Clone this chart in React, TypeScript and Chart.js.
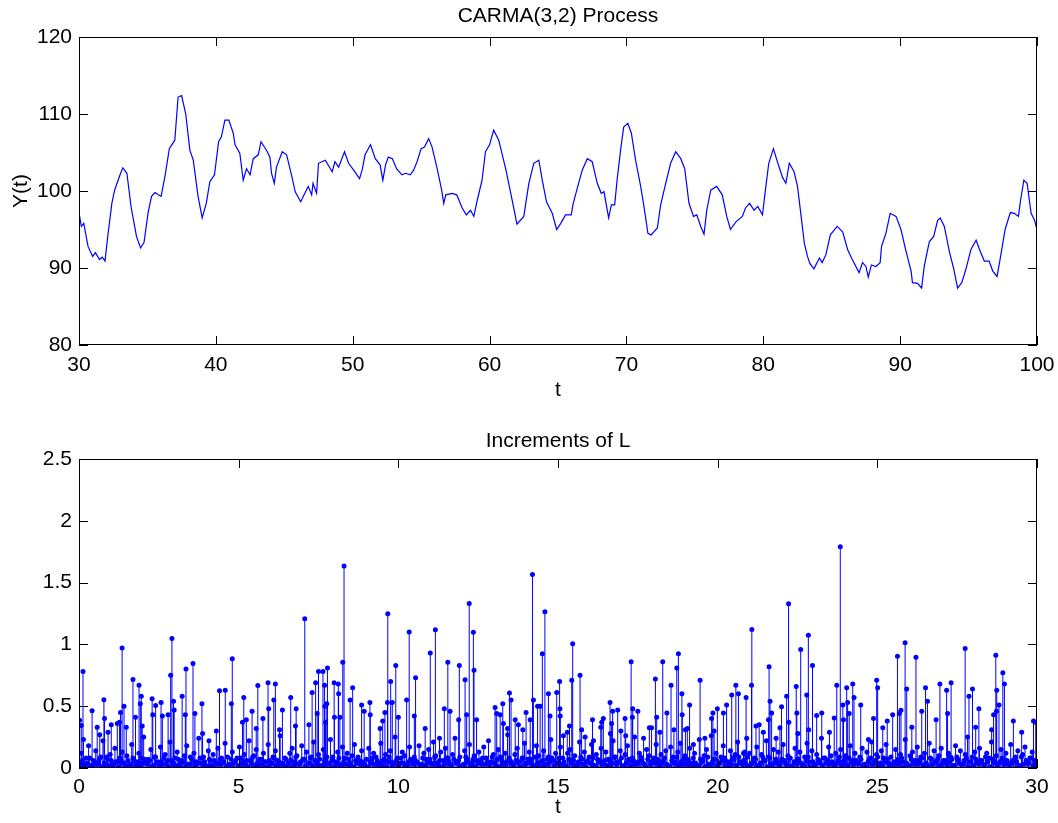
import React, { useEffect, useRef } from "react";
import { Chart, registerables } from "chart.js";

Chart.register(...registerables);

// ---------- Top panel: CARMA(3,2) process ----------
const topT = [
  30.0, 30.17, 30.35, 30.66, 31.0, 31.2, 31.5, 31.7, 31.9, 32.1, 32.4, 32.6, 33.0, 33.2, 33.5, 33.8,
  34.2, 34.5, 34.75, 35.05, 35.3, 35.55, 35.8, 36.0, 36.3, 36.6, 37.0, 37.24, 37.5, 37.8, 38.1, 38.35,
  38.7, 39.0, 39.3, 39.56, 39.9, 40.2, 40.4, 40.66, 40.95, 41.27, 41.4, 41.75, 42.0, 42.24, 42.5, 42.73,
  43.1, 43.3, 43.7, 43.95, 44.07, 44.27, 44.43, 44.85, 45.17, 45.5, 45.8, 46.2, 46.5, 46.75, 47.0, 47.1,
  47.36, 47.5, 48.0, 48.5, 48.7, 48.97, 49.4, 49.7, 50.07, 50.5, 50.7, 50.9, 51.3, 51.65, 52.0, 52.2,
  52.4, 52.6, 52.9, 53.2, 53.6, 53.85, 54.2, 54.45, 54.7, 55.0, 55.24, 55.55, 55.8, 56.17, 56.5, 56.65,
  56.8, 57.26, 57.6, 58.0, 58.3, 58.6, 58.85, 59.1, 59.45, 59.7, 60.0, 60.3, 60.67, 61.2, 61.65, 62.0,
  62.5, 62.87, 63.23, 63.6, 63.85, 64.16, 64.58, 64.9, 65.2, 65.55, 65.97, 66.1, 66.4, 66.77, 67.14, 67.5,
  67.87, 68.16, 68.36, 68.7, 68.9, 69.14, 69.33, 69.6, 69.8, 70.1, 70.36, 70.67, 71.04, 71.28, 71.57, 71.8,
  72.26, 72.5, 72.87, 73.23, 73.6, 73.97, 74.26, 74.57, 74.9, 75.14, 75.43, 75.67, 75.87, 76.16, 76.6, 77.0,
  77.33, 77.6, 78.0, 78.47, 78.7, 79.0, 79.33, 79.6, 79.94, 80.1, 80.4, 80.74, 81.03, 81.4, 81.65, 81.9,
  82.25, 82.5, 82.74, 83.0, 83.23, 83.4, 83.7, 84.1, 84.3, 84.57, 84.9, 85.4, 85.8, 86.16, 86.5, 87.0,
  87.25, 87.5, 87.67, 87.9, 88.23, 88.54, 88.64, 88.96, 89.27, 89.7, 90.06, 90.4, 90.8, 90.9, 91.27, 91.57,
  91.76, 92.13, 92.45, 92.74, 92.93, 93.23, 93.6, 93.9, 94.2, 94.5, 94.8, 95.17, 95.55, 95.8, 96.15, 96.5,
  96.77, 97.08, 97.3, 97.67, 98.05, 98.35, 98.64, 98.8, 99.04, 99.28, 99.57, 99.82, 100.0,
];
const topY = [
  97.2, 95.4, 95.8, 92.8, 91.5, 92.0, 91.1, 91.4, 90.9, 94.1, 98.4, 100.1, 102.1, 103.0, 102.3, 98.0,
  94.1, 92.6, 93.3, 97.2, 99.3, 99.8, 99.5, 99.3, 102.1, 105.5, 106.6, 112.2, 112.4, 110.0, 105.3, 104.0,
  99.3, 96.5, 98.4, 101.2, 102.1, 106.4, 107.0, 109.2, 109.2, 107.5, 106.0, 104.9, 101.4, 102.9, 102.1, 104.2,
  104.7, 106.4, 105.3, 104.4, 102.3, 101.0, 103.1, 105.1, 104.7, 102.3, 99.9, 98.6, 99.7, 100.6, 99.5, 101.0,
  99.7, 103.6, 104.0, 102.5, 103.8, 103.1, 105.1, 103.6, 102.7, 101.6, 102.8, 104.7, 106.0, 104.2, 103.4, 101.4,
  103.4, 104.4, 104.2, 102.9, 102.1, 102.3, 102.1, 102.7, 103.8, 105.5, 105.7, 106.8, 105.7, 102.9, 100.1, 98.4,
  99.5, 99.7, 99.5, 97.8, 96.9, 97.5, 96.7, 98.8, 101.4, 105.1, 106.0, 107.9, 106.6, 102.7, 98.8, 95.7,
  96.7, 101.0, 103.6, 104.0, 101.4, 98.6, 97.1, 95.0, 95.8, 96.9, 96.9, 98.3, 100.3, 102.7, 104.2, 103.8,
  101.0, 99.7, 99.9, 96.5, 98.2, 98.2, 101.6, 105.7, 108.3, 108.8, 107.5, 104.0, 100.6, 98.0, 94.5, 94.3,
  95.2, 98.2, 101.0, 103.6, 105.1, 104.2, 102.9, 98.4, 96.7, 96.9, 95.4, 94.4, 97.5, 100.1, 100.6, 99.5,
  96.7, 95.0, 96.0, 96.7, 97.8, 98.4, 97.5, 98.0, 96.9, 99.3, 103.6, 105.5, 103.8, 101.8, 101.0, 103.6,
  102.5, 100.6, 97.1, 93.2, 91.5, 90.6, 89.9, 91.3, 90.7, 91.7, 94.3, 95.4, 94.7, 92.4, 91.1, 89.4,
  90.7, 90.2, 88.8, 90.4, 90.2, 90.7, 92.8, 94.5, 97.1, 96.7, 95.0, 92.4, 89.6, 88.1, 88.0, 87.4,
  90.2, 93.4, 94.1, 96.2, 96.5, 95.4, 92.1, 90.0, 87.4, 88.1, 89.8, 92.4, 93.6, 92.4, 90.9, 90.9,
  89.6, 88.9, 91.1, 95.0, 97.2, 97.1, 96.7, 98.8, 101.4, 101.0, 97.1, 96.2, 95.0,
];
const topXTicks = [30, 40, 50, 60, 70, 80, 90, 100];
const topYTicks = [80, 90, 100, 110, 120];

// ---------- Bottom panel: increments of L ----------
const incT = [
  0.02, 0.07, 0.125, 0.14, 0.41, 0.57, 0.65, 0.78, 0.8, 0.91, 1.01, 1.2, 1.27, 1.3, 1.35, 1.41, 1.48,
  1.69, 1.77, 1.88, 1.92, 1.95, 1.98, 2.29, 2.31, 2.4, 2.57, 2.61, 2.79, 2.87, 2.91, 2.96, 2.98, 3.23,
  3.33, 3.35, 3.57, 3.63, 3.85, 3.87, 4.07, 4.3, 4.4, 4.58, 4.77, 4.8, 5.12, 5.16, 5.24, 5.42, 5.55,
  5.6, 5.76, 5.92, 5.94, 6.1, 6.15, 6.28, 6.37, 6.63, 6.78, 6.8, 7.07, 7.2, 7.3, 7.41, 7.46, 7.5, 7.64,
  7.69, 7.7, 7.72, 7.76, 7.78, 7.99, 8.0, 8.12, 8.13, 8.17, 8.26, 8.3, 8.49, 8.57, 8.85, 8.93, 9.11,
  9.12, 9.43, 9.51, 9.58, 9.66, 9.67, 9.76, 9.81, 9.92, 10.0, 10.26, 10.34, 10.5, 10.54, 10.84, 11.0,
  11.16, 11.29, 11.44, 11.55, 11.62, 11.89, 11.91, 12.09, 12.14, 12.22, 12.35, 12.37, 12.45, 13.03,
  13.08, 13.19, 13.27, 13.29, 13.42, 13.48, 13.53, 13.66, 13.76, 13.9, 14.0, 14.13, 14.2, 14.23, 14.36,
  14.44, 14.51, 14.59, 14.7, 14.75, 14.96, 15.05, 15.06, 15.07, 15.17, 15.29, 15.36, 15.43, 15.46,
  15.69, 15.74, 15.85, 16.08, 16.11, 16.34, 16.37, 16.42, 16.63, 16.64, 16.68, 16.71, 16.87, 16.97,
  17.1, 17.12, 17.29, 17.33, 17.34, 17.5, 17.68, 17.86, 17.93, 18.05, 18.09, 18.19, 18.28, 18.41,
  18.54, 18.63, 18.72, 18.77, 18.88, 18.89, 18.99, 19.05, 19.12, 19.24, 19.45, 19.6, 19.81, 19.85,
  19.89, 19.99, 20.18, 20.28, 20.44, 20.57, 20.65, 20.81, 20.89, 20.91, 21.06, 21.07, 21.2, 21.3,
  21.43, 21.59, 21.61, 21.64, 21.69, 21.83, 21.95, 22.0, 22.16, 22.22, 22.23, 22.46, 22.48, 22.51,
  22.6, 22.79, 22.84, 22.85, 22.97, 23.1, 23.26, 23.5, 23.65, 23.73, 23.84, 23.92, 23.94, 24.04, 24.07,
  24.12, 24.23, 24.27, 24.48, 24.72, 24.88, 24.98, 25.01, 25.17, 25.31, 25.48, 25.63, 25.69, 25.74,
  25.87, 25.92, 26.08, 26.21, 26.39, 26.51, 26.57, 26.84, 26.96, 27.17, 27.2, 27.31, 27.75, 27.87,
  27.98, 28.08, 28.18, 28.58, 28.64, 28.71, 28.73, 28.74, 28.81, 28.93, 28.98, 29.26, 29.52, 29.89, 29.96,
];
const incV = [
  0.386, 0.343, 0.78, 0.23, 0.464, 0.33, 0.27, 0.553, 0.4, 0.29, 0.35, 0.36, 0.37, 0.45, 0.97, 0.5, 0.33,
  0.716, 0.41, 0.67, 0.52, 0.58, 0.34, 0.56, 0.43, 0.505, 0.53, 0.42, 0.43, 0.75, 1.048, 0.54, 0.47, 0.58,
  0.43, 0.8, 0.845, 0.44, 0.52, 0.28, 0.22, 0.3, 0.626, 0.63, 0.52, 0.883, 0.37, 0.57, 0.39, 0.46, 0.32,
  0.667, 0.4, 0.69, 0.48, 0.55, 0.68, 0.31, 0.47, 0.57, 0.34, 0.48, 1.207, 0.35, 0.61, 0.69, 0.44, 0.78, 0.78,
  0.67, 0.5, 0.37, 0.52, 0.81, 0.69, 0.41, 0.68, 0.6, 0.41, 0.856, 1.634, 0.55, 0.65, 0.51, 0.46, 0.53,
  0.43, 0.32, 0.38, 0.45, 0.53, 1.248, 0.7, 0.53, 0.83, 0.41, 0.55, 1.1, 0.42, 0.73, 0.32, 0.93,
  1.118, 0.24, 0.48, 0.856, 0.46, 0.39, 0.83, 0.715, 0.43, 1.331, 1.099, 0.79, 0.39, 0.49,
  0.44, 0.43, 0.52, 0.36, 0.32, 0.606, 0.55, 0.39, 0.35, 0.31, 0.45, 0.39, 1.566, 0.55, 0.5,
  0.5, 0.925, 1.264, 0.6, 0.42, 0.61, 0.7, 0.48, 0.42, 0.26, 0.29, 0.34, 0.71, 1.005,
  0.75, 0.31, 0.25, 0.39, 0.22, 0.33, 0.37, 0.4, 0.53, 0.28, 0.36, 0.46, 0.47, 0.3,
  0.4, 0.26, 0.859, 0.41, 0.48, 0.46, 0.24, 0.325, 0.325, 0.72, 0.41, 0.29, 0.86, 0.445,
  0.67, 0.31, 0.81, 0.924, 0.6, 0.43, 0.31, 0.32, 0.51, 0.19, 0.71, 0.24, 0.4, 0.445,
  0.3, 0.48, 0.445, 0.51, 0.59, 0.67, 0.6, 0.12, 0.57, 0.24, 0.67, 1.12, 0.34, 0.35,
  0.29, 0.39, 0.82, 0.54, 0.445, 0.24, 0.325, 0.495, 0.58, 1.329, 0.37, 0.66, 0.445, 0.28,
  0.959, 0.59, 1.075, 0.31, 0.83, 0.425, 0.445, 0.29, 0.405, 0.67, 1.79, 0.51, 0.39, 0.65, 0.53,
  0.44, 0.68, 0.57, 0.51, 0.23, 0.4, 0.71, 0.65, 0.325, 0.38, 0.43, 0.905, 0.44, 0.467,
  1.013, 0.64, 0.33, 0.896, 0.46, 0.65, 0.54, 0.39, 0.68, 0.63, 0.44, 0.69, 0.967, 0.58,
  0.64, 0.33, 0.48, 0.31, 0.43, 0.912, 0.46, 0.63, 0.51, 0.77, 0.68, 0.38, 0.29, 0.38, 0.37,
];
// small increments, one every 0.075 time units starting at t = 0
const smallStep = 0.075;
const smallV = [
  0.05, 0.12, 0.03, 0.08, 0.18, 0.02, 0.06, 0.14, 0.04, 0.09, 0.22, 0.03, 0.07, 0.11, 0.02, 0.16, 0.05, 0.08, 0.13, 0.04,
  0.1, 0.02, 0.19, 0.06, 0.03, 0.12, 0.08, 0.25, 0.04, 0.07, 0.15, 0.02, 0.09, 0.05, 0.17, 0.03, 0.11, 0.06, 0.21, 0.04,
  0.08, 0.13, 0.02, 0.06, 0.1, 0.18, 0.03, 0.07, 0.12, 0.05, 0.24, 0.04, 0.09, 0.02, 0.14, 0.06, 0.11, 0.03, 0.16, 0.07,
  0.04, 0.2, 0.09, 0.02, 0.13, 0.05, 0.08, 0.17, 0.03, 0.11, 0.06, 0.22, 0.04, 0.1, 0.15, 0.02, 0.07, 0.12, 0.05, 0.19,
  0.03, 0.09, 0.14, 0.06, 0.26, 0.04, 0.08, 0.02, 0.12, 0.16, 0.05, 0.1, 0.03, 0.18, 0.07, 0.13, 0.04, 0.09, 0.21, 0.06,
  0.11, 0.02, 0.15, 0.07, 0.04, 0.23, 0.09, 0.05, 0.13, 0.03, 0.17, 0.08, 0.12, 0.02, 0.1, 0.19, 0.04, 0.06, 0.14, 0.03,
  0.07, 0.16, 0.04, 0.12, 0.09, 0.02, 0.2, 0.06, 0.11, 0.05, 0.14, 0.03, 0.25, 0.08, 0.04, 0.13, 0.1, 0.02, 0.17, 0.06,
  0.09, 0.05, 0.18, 0.03, 0.12, 0.07, 0.15, 0.04, 0.21, 0.1, 0.02, 0.13, 0.06, 0.16, 0.08, 0.03, 0.11, 0.24, 0.05, 0.09,
  0.02, 0.14, 0.07, 0.19, 0.04, 0.1, 0.06, 0.13, 0.03, 0.17, 0.08, 0.22, 0.05, 0.11, 0.02, 0.15, 0.09, 0.04, 0.12, 0.27,
  0.06, 0.03, 0.11, 0.16, 0.05, 0.08, 0.2, 0.04, 0.13, 0.07, 0.02, 0.18, 0.1, 0.05, 0.14, 0.03, 0.09, 0.23, 0.06, 0.12,
  0.04, 0.17, 0.08, 0.02, 0.12, 0.15, 0.06, 0.1, 0.03, 0.21, 0.07, 0.13, 0.05, 0.09, 0.19, 0.02, 0.11, 0.06, 0.16, 0.04,
  0.13, 0.07, 0.03, 0.22, 0.09, 0.05, 0.14, 0.02, 0.11, 0.18, 0.06, 0.08, 0.25, 0.04, 0.12, 0.07, 0.03, 0.15, 0.1, 0.05,
  0.08, 0.19, 0.04, 0.11, 0.06, 0.14, 0.02, 0.17, 0.09, 0.05, 0.13, 0.2, 0.03, 0.1, 0.07, 0.16, 0.04, 0.12, 0.02, 0.23,
  0.05, 0.1, 0.15, 0.03, 0.26, 0.07, 0.12, 0.04, 0.09, 0.18, 0.06, 0.02, 0.14, 0.08, 0.11, 0.21, 0.05, 0.03, 0.13, 0.09,
  0.12, 0.04, 0.08, 0.17, 0.02, 0.11, 0.06, 0.22, 0.09, 0.03, 0.15, 0.07, 0.13, 0.05, 0.19, 0.04, 0.1, 0.08, 0.02, 0.16,
  0.07, 0.13, 0.03, 0.09, 0.2, 0.05, 0.14, 0.02, 0.11, 0.06, 0.24, 0.08, 0.04, 0.17, 0.1, 0.03, 0.12, 0.06, 0.15, 0.05,
  0.1, 0.02, 0.18, 0.06, 0.12, 0.04, 0.09, 0.16, 0.03, 0.13, 0.07, 0.21, 0.05, 0.11, 0.02, 0.14, 0.08, 0.19, 0.04, 0.09,
  0.03, 0.15, 0.07, 0.11, 0.05, 0.23, 0.02, 0.1, 0.13, 0.06, 0.17, 0.04, 0.08, 0.12, 0.03, 0.2, 0.07, 0.14, 0.05, 0.1,
  0.16, 0.06, 0.04, 0.12, 0.09, 0.02, 0.18, 0.07, 0.14, 0.03, 0.11, 0.25, 0.05, 0.09, 0.13, 0.04, 0.16, 0.06, 0.02, 0.12,
  0.08, 0.21, 0.05, 0.1, 0.03, 0.15, 0.07, 0.12, 0.04, 0.19, 0.06, 0.09, 0.14, 0.02, 0.11, 0.17, 0.05, 0.08, 0.13, 0.06,
];
// tiny increments, one every 0.075 time units starting at t = 0.0375
const tinyStart = 0.0375;
const tinyV = [
  0.03, 0.06, 0.01, 0.04, 0.08, 0.02, 0.05, 0.03, 0.07, 0.01, 0.04, 0.09, 0.02, 0.06, 0.03, 0.05, 0.01, 0.07, 0.04, 0.02,
  0.06, 0.03, 0.08, 0.01, 0.05, 0.02, 0.04, 0.07, 0.03, 0.06, 0.01, 0.09, 0.04, 0.02, 0.05, 0.08, 0.03, 0.01, 0.06, 0.04,
  0.02, 0.07, 0.04, 0.05, 0.01, 0.03, 0.09, 0.06, 0.02, 0.04, 0.08, 0.03, 0.05, 0.01, 0.07, 0.02, 0.06, 0.04, 0.03, 0.08,
  0.05, 0.01, 0.03, 0.07, 0.04, 0.06, 0.02, 0.08, 0.05, 0.03, 0.01, 0.06, 0.09, 0.02, 0.04, 0.07, 0.03, 0.05, 0.01, 0.06,
  0.04, 0.08, 0.02, 0.05, 0.03, 0.01, 0.07, 0.04, 0.06, 0.02, 0.09, 0.03, 0.05, 0.07, 0.01, 0.04, 0.08, 0.02, 0.06, 0.03,
  0.07, 0.02, 0.05, 0.09, 0.03, 0.06, 0.01, 0.04, 0.08, 0.02, 0.05, 0.03, 0.07, 0.04, 0.01, 0.06, 0.09, 0.03, 0.05, 0.02,
  0.01, 0.05, 0.08, 0.03, 0.06, 0.04, 0.02, 0.07, 0.01, 0.09, 0.05, 0.03, 0.06, 0.02, 0.08, 0.04, 0.01, 0.05, 0.07, 0.03,
  0.06, 0.04, 0.01, 0.08, 0.02, 0.05, 0.07, 0.03, 0.09, 0.04, 0.06, 0.01, 0.03, 0.08, 0.05, 0.02, 0.07, 0.04, 0.06, 0.01,
  0.03, 0.09, 0.05, 0.02, 0.07, 0.01, 0.04, 0.06, 0.08, 0.03, 0.05, 0.02, 0.09, 0.04, 0.07, 0.01, 0.06, 0.03, 0.05, 0.08,
  0.05, 0.02, 0.06, 0.04, 0.01, 0.08, 0.03, 0.07, 0.05, 0.02, 0.09, 0.04, 0.01, 0.06, 0.03, 0.07, 0.05, 0.08, 0.02, 0.04,
  0.08, 0.03, 0.05, 0.01, 0.07, 0.04, 0.06, 0.02, 0.05, 0.09, 0.03, 0.01, 0.06, 0.04, 0.08, 0.02, 0.07, 0.05, 0.03, 0.06,
  0.02, 0.06, 0.04, 0.09, 0.03, 0.05, 0.08, 0.01, 0.04, 0.07, 0.02, 0.06, 0.03, 0.05, 0.09, 0.04, 0.01, 0.07, 0.03, 0.05,
  0.04, 0.07, 0.02, 0.05, 0.08, 0.03, 0.01, 0.06, 0.04, 0.09, 0.02, 0.05, 0.07, 0.03, 0.06, 0.01, 0.08, 0.04, 0.02, 0.07,
  0.06, 0.01, 0.09, 0.03, 0.05, 0.07, 0.02, 0.04, 0.06, 0.08, 0.01, 0.05, 0.03, 0.07, 0.02, 0.09, 0.04, 0.06, 0.03, 0.01,
  0.03, 0.05, 0.07, 0.02, 0.04, 0.09, 0.06, 0.01, 0.08, 0.03, 0.05, 0.04, 0.02, 0.07, 0.06, 0.03, 0.08, 0.01, 0.05, 0.04,
  0.07, 0.04, 0.02, 0.06, 0.09, 0.01, 0.05, 0.03, 0.07, 0.04, 0.02, 0.08, 0.06, 0.03, 0.05, 0.01, 0.04, 0.09, 0.02, 0.06,
  0.02, 0.08, 0.05, 0.03, 0.06, 0.04, 0.07, 0.02, 0.01, 0.05, 0.08, 0.03, 0.06, 0.09, 0.04, 0.02, 0.05, 0.07, 0.01, 0.03,
  0.05, 0.03, 0.06, 0.08, 0.01, 0.04, 0.02, 0.07, 0.05, 0.03, 0.06, 0.09, 0.02, 0.04, 0.01, 0.08, 0.03, 0.05, 0.07, 0.02,
  0.04, 0.06, 0.01, 0.05, 0.07, 0.02, 0.09, 0.04, 0.03, 0.06, 0.08, 0.01, 0.05, 0.02, 0.07, 0.04, 0.06, 0.03, 0.09, 0.05,
  0.01, 0.07, 0.04, 0.02, 0.05, 0.08, 0.03, 0.06, 0.01, 0.04, 0.07, 0.05, 0.02, 0.09, 0.03, 0.06, 0.04, 0.08, 0.02, 0.05,
];
const botXTicks = [0, 5, 10, 15, 20, 25, 30];
const botYTicks = [0, 0.5, 1, 1.5, 2, 2.5];

const FONT = "'Liberation Sans', Arial, Helvetica, sans-serif";
const FS = 21;
const BLUE = "#0000ff";

type Labels = {
  title: string;
  titleY: number;
  xlabel: string;
  xlabelY: number;
  ylabel?: string;
  stems?: boolean;
};

function makePlugin(lab: Labels) {
  return {
    id: "matlabAxes",
    beforeDatasetsDraw(chart: any) {
      if (!lab.stems) return;
      const { ctx, chartArea: a, scales } = chart;
      const y0 = scales.y.getPixelForValue(0);
      ctx.save();
      ctx.beginPath();
      ctx.rect(a.left, a.top, a.right - a.left, a.bottom - a.top);
      ctx.clip();
      ctx.strokeStyle = BLUE;
      ctx.lineWidth = 1;
      chart.data.datasets.forEach((_: any, i: number) => {
        const meta = chart.getDatasetMeta(i);
        ctx.beginPath();
        meta.data.forEach((el: any) => {
          ctx.moveTo(el.x, y0);
          ctx.lineTo(el.x, el.y);
        });
        ctx.stroke();
      });
      ctx.beginPath();
      ctx.moveTo(a.left, y0 - 0.5);
      ctx.lineTo(a.right, y0 - 0.5);
      ctx.stroke();
      ctx.restore();
    },
    afterDraw(chart: any) {
      const { ctx, chartArea: a, scales } = chart;
      const xs = scales.x;
      const ys = scales.y;
      ctx.save();
      ctx.strokeStyle = "#000";
      ctx.lineWidth = 1;
      ctx.strokeRect(a.left + 0.5, a.top + 0.5, a.right - a.left - 1, a.bottom - a.top - 1);
      const tl = 9;
      ctx.beginPath();
      xs.ticks.forEach((t: any) => {
        const px = Math.round(xs.getPixelForValue(t.value)) + 0.5;
        ctx.moveTo(px, a.bottom);
        ctx.lineTo(px, a.bottom - tl);
        ctx.moveTo(px, a.top);
        ctx.lineTo(px, a.top + tl);
      });
      ys.ticks.forEach((t: any) => {
        const py = Math.round(ys.getPixelForValue(t.value)) + 0.5;
        ctx.moveTo(a.left, py);
        ctx.lineTo(a.left + tl, py);
        ctx.moveTo(a.right, py);
        ctx.lineTo(a.right - tl, py);
      });
      ctx.stroke();
      ctx.fillStyle = "#000";
      ctx.font = `${FS}px ${FONT}`;
      ctx.textAlign = "center";
      ctx.textBaseline = "alphabetic";
      const cx = (a.left + a.right) / 2;
      ctx.fillText(lab.title, cx, lab.titleY);
      ctx.fillText(lab.xlabel, cx, lab.xlabelY);
      if (lab.ylabel) {
        ctx.translate(21, (a.top + a.bottom) / 2);
        ctx.rotate(-Math.PI / 2);
        ctx.textBaseline = "middle";
        ctx.fillText(lab.ylabel, 0, 0);
      }
      ctx.restore();
    },
  };
}

function axisOpts(min: number, max: number, step: number, pad: number, fit: (s: any) => void) {
  return {
    type: "linear" as const,
    min,
    max,
    grid: { display: false, drawTicks: false },
    border: { display: false },
    ticks: {
      stepSize: step,
      padding: pad,
      autoSkip: false,
      maxRotation: 0,
      color: "#000",
      font: { family: FONT, size: FS },
      callback: (v: any) => String(v),
    },
    afterFit: (s: any) => {
      fit(s);
      s.paddingLeft = 0;
      s.paddingRight = 0;
      s.paddingTop = 0;
      s.paddingBottom = 0;
    },
  };
}

export default function App() {
  const topRef = useRef<HTMLCanvasElement>(null);
  const botRef = useRef<HTMLCanvasElement>(null);

  useEffect(() => {
    const topData = topT.map((t, i) => ({ x: t, y: topY[i] }));
    const top = new Chart(topRef.current!, {
      type: "line",
      data: {
        datasets: [
          {
            data: topData,
            borderColor: BLUE,
            borderWidth: 1.2,
            pointRadius: 0,
            tension: 0,
          },
        ],
      },
      options: {
        responsive: false,
        animation: false,
        events: [],
        layout: { padding: { top: 37, right: 21, left: 0, bottom: 0 } },
        plugins: { legend: { display: false }, tooltip: { enabled: false }, title: { display: false } },
        scales: {
          x: {
            ...axisOpts(topXTicks[0], topXTicks[topXTicks.length - 1], 10, 8, (s: any) => {
              s.height = 66;
            }),
          },
          y: {
            ...axisOpts(topYTicks[0], topYTicks[topYTicks.length - 1], 10, 7, (s: any) => {
              s.width = 79;
            }),
          },
        },
      },
      plugins: [
        makePlugin({ title: "CARMA(3,2) Process", titleY: 22, xlabel: "t", xlabelY: 396, ylabel: "Y(t)" }),
      ],
    });

    const small = smallV.map((v, i) => ({ x: i * smallStep, y: v }));
    const tiny = tinyV.map((v, i) => ({ x: tinyStart + i * smallStep, y: v }));
    const big = incT.map((t, i) => ({ x: t, y: incV[i] }));
    const pt = { backgroundColor: BLUE, borderColor: BLUE, borderWidth: 0, pointRadius: 2.5 };
    const bot = new Chart(botRef.current!, {
      type: "scatter",
      data: {
        datasets: [
          { data: tiny, ...pt },
          { data: small, ...pt },
          { data: big, ...pt },
        ],
      },
      options: {
        responsive: false,
        animation: false,
        events: [],
        layout: { padding: { top: 48, right: 21, left: 0, bottom: 0 } },
        plugins: { legend: { display: false }, tooltip: { enabled: false }, title: { display: false } },
        scales: {
          x: {
            ...axisOpts(botXTicks[0], botXTicks[botXTicks.length - 1], 5, 7, (s: any) => {
              s.height = 55;
            }),
          },
          y: {
            ...axisOpts(botYTicks[0], botYTicks[botYTicks.length - 1], 0.5, 7, (s: any) => {
              s.width = 79;
            }),
          },
        },
      },
      plugins: [makePlugin({ title: "Increments of L", titleY: 36, xlabel: "t", xlabelY: 402, stems: true })],
    });

    return () => {
      top.destroy();
      bot.destroy();
    };
  }, []);

  return (
    <div style={{ position: "absolute", left: 0, top: 0, width: 1058, height: 823, background: "#fff" }}>
      <canvas ref={topRef} width={1058} height={411} style={{ position: "absolute", left: 0, top: 0 }} />
      <canvas ref={botRef} width={1058} height={412} style={{ position: "absolute", left: 0, top: 411 }} />
    </div>
  );
}
